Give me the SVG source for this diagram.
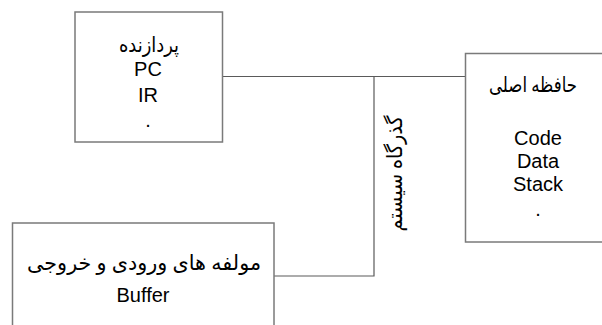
<svg xmlns="http://www.w3.org/2000/svg" width="602" height="325" viewBox="0 0 602 325">
<style>
.box{fill:#fff;stroke:#7a7a7a;stroke-width:1.5}
.conn{fill:none;stroke:#5a5a5a;stroke-width:1.2}
.lat{font-family:"Liberation Sans",Arial,sans-serif;font-size:20px;fill:#000;text-anchor:middle}
.fa{font-family:"Liberation Serif","DejaVu Serif","DejaVu Sans",serif;font-size:21px;fill:#000;text-anchor:middle}
</style>
<rect width="602" height="325" fill="#fff"/>
<g id="connectors">
<polyline class="conn" points="222,76.5 465,76.5"/>
<polyline class="conn" points="374,76.5 374,276 274,276"/>
</g>
<g id="processor">
<rect class="box" x="75" y="12" width="147.5" height="130"/>
<text class="fa" x="149" y="52" direction="rtl" textLength="60" lengthAdjust="spacingAndGlyphs">پردازنده</text>
<text class="lat" x="148" y="76">PC</text>
<text class="lat" x="148" y="101.5">IR</text>
<text class="lat" x="148" y="127">.</text>
</g>
<g id="memory">
<rect class="box" x="465.5" y="53.5" width="150" height="188.5"/>
<text class="fa" x="533" y="92" direction="rtl" textLength="88" lengthAdjust="spacingAndGlyphs">حافظه اصلی</text>
<text class="lat" x="538" y="145">Code</text>
<text class="lat" x="538" y="168">Data</text>
<text class="lat" x="538" y="191">Stack</text>
<text class="lat" x="538" y="216">.</text>
</g>
<g id="io">
<rect class="box" x="12.5" y="223" width="261.5" height="110"/>
<text class="fa" x="144" y="270" direction="rtl" textLength="234" lengthAdjust="spacingAndGlyphs">مولفه های ورودی و خروجی</text>
<text class="lat" x="143" y="301.5">Buffer</text>
</g>
<g id="bus-label">
<text class="fa" x="0" y="0" direction="rtl" textLength="116" lengthAdjust="spacingAndGlyphs" transform="translate(402,173.5) rotate(-90)">گذرگاه سیستم</text>
</g>
</svg>
